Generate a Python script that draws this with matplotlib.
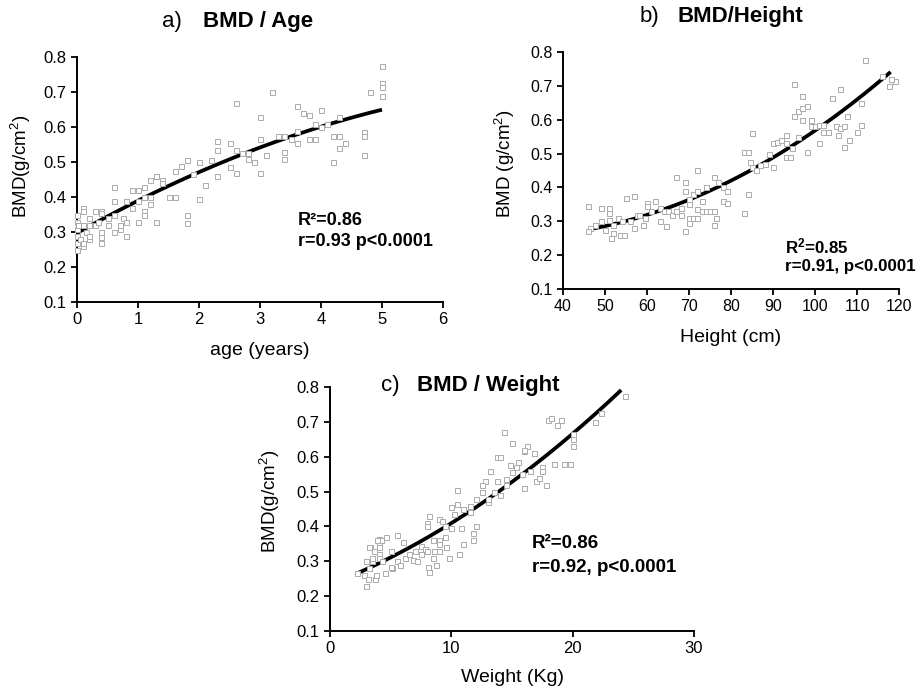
import numpy as np
import matplotlib
matplotlib.use("Agg")
import matplotlib.pyplot as plt

plt.rcParams["font.family"] = ["Liberation Sans", "DejaVu Sans"]
plt.rcParams["mathtext.fontset"] = "custom"
plt.rcParams["mathtext.rm"] = "Liberation Sans"
plt.rcParams["mathtext.bf"] = "Liberation Sans:bold"
plt.rcParams["mathtext.default"] = "regular"

# ---- a) BMD vs age -------------------------------------------------------
age_years = [0.0, 0.0, 0.0, 0.0, 0.0, 0.0, 0.02, 0.05, 0.1, 0.1, 0.1, 0.1, 0.1, 0.15,
             0.2, 0.2, 0.2, 0.2, 0.3, 0.3, 0.35, 0.4, 0.4, 0.4, 0.4, 0.4, 0.5, 0.5,
             0.6, 0.6, 0.6, 0.6, 0.7, 0.7, 0.75, 0.8, 0.8, 0.8, 0.9, 0.9, 1.0, 1.0, 1.0,
             1.1, 1.1, 1.1, 1.1, 1.2, 1.2, 1.2, 1.3, 1.3, 1.4, 1.4, 1.5, 1.6, 1.6, 1.7,
             1.8, 1.8, 1.8, 1.9, 2.0, 2.0, 2.1, 2.2, 2.3, 2.3, 2.3, 2.5, 2.5, 2.6, 2.6,
             2.6, 2.7, 2.8, 2.8, 2.9, 3.0, 3.0, 3.0, 3.1, 3.2, 3.3, 3.4, 3.4, 3.4, 3.5,
             3.6, 3.6, 3.6, 3.7, 3.8, 3.8, 3.9, 3.9, 4.0, 4.0, 4.1, 4.2, 4.2, 4.3, 4.3,
             4.3, 4.4, 4.7, 4.7, 4.7, 4.8, 5.0, 5.0, 5.0, 5.0]
bmd_age = [0.35, 0.33, 0.31, 0.29, 0.27, 0.25, 0.32, 0.28, 0.37, 0.36, 0.32, 0.26, 0.27, 0.30,
           0.34, 0.32, 0.28, 0.29, 0.36, 0.32, 0.33, 0.36, 0.355, 0.30, 0.27, 0.285, 0.34, 0.32,
           0.43, 0.39, 0.35, 0.30, 0.31, 0.32, 0.34, 0.39, 0.33, 0.29, 0.42, 0.37, 0.42, 0.39, 0.33,
           0.43, 0.36, 0.35, 0.40, 0.45, 0.38, 0.40, 0.46, 0.33, 0.45, 0.44, 0.40, 0.475, 0.40, 0.49,
           0.505, 0.35, 0.325, 0.465, 0.50, 0.395, 0.435, 0.505, 0.56, 0.535, 0.46, 0.555, 0.485, 0.67, 0.535,
           0.47, 0.525, 0.51, 0.525, 0.50, 0.63, 0.565, 0.47, 0.52, 0.70, 0.575, 0.575, 0.53, 0.51, 0.565,
           0.66, 0.59, 0.555, 0.64, 0.635, 0.565, 0.61, 0.565, 0.65, 0.60, 0.61, 0.575, 0.50, 0.63, 0.575,
           0.54, 0.555, 0.585, 0.575, 0.52, 0.70, 0.775, 0.725, 0.715, 0.69]
fit_age = [-0.0055, 0.098, 0.297]          # quadratic regression coefficients
fit_age_span = (0.0, 5.0)

# ---- b) BMD vs height ----------------------------------------------------
height_cm = [46, 46.5, 46, 47.5, 49, 49, 50, 51, 51, 51, 51.5, 52, 52, 53, 53.5, 54, 54.5, 55,
             56, 57, 57, 57.5, 58, 59, 59.5, 60, 60, 61, 62, 63, 63, 64, 64.5, 65, 66, 67, 67,
             68, 68, 69, 69, 69, 70, 70, 70, 70, 71, 71, 72, 72, 72, 72, 73, 73, 74, 74, 75,
             76, 76, 76, 76.5, 77, 78, 78, 79, 79, 83, 83, 84, 84, 84.5, 85, 85, 86, 87, 88,
             89, 90, 90, 91, 92, 93, 93, 93, 94, 94.5, 95, 95, 96, 96, 97, 97, 97, 98, 98,
             99, 99, 100, 101, 101, 102, 102, 103, 104, 105, 105.5, 106, 106, 107, 107, 107.5,
             108, 110, 111, 111, 112, 116, 117.5, 119, 118]
bmd_height = [0.345, 0.28, 0.27, 0.29, 0.34, 0.30, 0.275, 0.34, 0.325, 0.305, 0.25, 0.265, 0.29,
              0.31, 0.26, 0.30, 0.26, 0.37, 0.30, 0.375, 0.28, 0.32, 0.32, 0.29, 0.31, 0.355, 0.345,
              0.33, 0.36, 0.30, 0.34, 0.33, 0.285, 0.33, 0.32, 0.43, 0.33, 0.32, 0.34, 0.415, 0.39,
              0.27, 0.365, 0.35, 0.31, 0.295, 0.38, 0.31, 0.45, 0.39, 0.335, 0.31, 0.36, 0.33, 0.40,
              0.33, 0.33, 0.43, 0.33, 0.29, 0.31, 0.415, 0.40, 0.36, 0.39, 0.355, 0.505, 0.325, 0.505,
              0.38, 0.475, 0.56, 0.46, 0.45, 0.465, 0.47, 0.50, 0.46, 0.53, 0.535, 0.54, 0.555, 0.53,
              0.49, 0.49, 0.515, 0.705, 0.61, 0.55, 0.625, 0.67, 0.60, 0.635, 0.64, 0.505, 0.60, 0.58,
              0.58, 0.585, 0.53, 0.585, 0.565, 0.565, 0.665, 0.58, 0.555, 0.69, 0.575, 0.58, 0.52,
              0.61, 0.54, 0.565, 0.585, 0.65, 0.775, 0.73, 0.70, 0.715, 0.72]
fit_height = [5.844e-5, -0.003123, 0.29586]
fit_height_span = (46.5, 118.0)

# ---- c) BMD vs weight ----------------------------------------------------
weight_kg = [2.2, 2.8, 3.0, 3.0, 3.1, 3.2, 3.3, 3.5, 3.5, 3.6, 3.7, 3.8, 4.0, 4.0, 4.0, 4.0, 4.0,
             4.2, 4.5, 4.6, 5.0, 5.1, 5.5, 5.5, 5.8, 6.0, 6.2, 6.5, 6.8, 7.0, 7.2, 7.5, 7.5, 7.8,
             8.0, 8.0, 8.0, 8.1, 8.2, 8.2, 8.5, 8.5, 8.6, 8.7, 9.0, 9.0, 9.0, 9.0, 9.2, 9.5, 9.5,
             9.6, 9.8, 10.0, 10.0, 10.2, 10.5, 10.5, 10.6, 10.8, 11.0, 11.0, 11.5, 11.5, 11.8, 11.8,
             12.0, 12.0, 12.5, 12.8, 13.0, 13.2, 13.5, 13.8, 13.8, 14.0, 14.0, 14.3, 14.5, 14.5,
             15.0, 15.0, 15.3, 15.5, 15.8, 16.0, 16.0, 16.2, 16.5, 16.8, 17.0, 17.2, 17.5, 17.8,
             18.0, 18.2, 18.5, 18.7, 19.0, 19.3, 19.8, 20.0, 20.0, 20.0, 21.8, 22.3, 24.3, 17.5,
             16.0, 14.8, 12.5, 13.0, 4.3, 3.2, 3.9, 5.0]
bmd_weight = [0.265, 0.26, 0.30, 0.23, 0.25, 0.28, 0.34, 0.30, 0.31, 0.33, 0.25, 0.26, 0.365, 0.35,
              0.34, 0.32, 0.31, 0.36, 0.265, 0.37, 0.33, 0.28, 0.375, 0.30, 0.29, 0.355, 0.31, 0.32,
              0.305, 0.33, 0.30, 0.345, 0.32, 0.335, 0.41, 0.40, 0.33, 0.285, 0.43, 0.27, 0.36, 0.31,
              0.33, 0.29, 0.42, 0.36, 0.35, 0.33, 0.415, 0.40, 0.37, 0.34, 0.31, 0.455, 0.395, 0.435,
              0.505, 0.465, 0.32, 0.395, 0.45, 0.35, 0.46, 0.44, 0.38, 0.36, 0.40, 0.48, 0.50, 0.53,
              0.47, 0.56, 0.50, 0.60, 0.53, 0.60, 0.49, 0.67, 0.52, 0.535, 0.555, 0.64, 0.57, 0.585,
              0.55, 0.51, 0.615, 0.63, 0.56, 0.61, 0.53, 0.54, 0.57, 0.52, 0.705, 0.71, 0.58, 0.69,
              0.705, 0.58, 0.58, 0.65, 0.63, 0.665, 0.70, 0.725, 0.775, 0.56, 0.62, 0.575, 0.52, 0.48,
              0.30, 0.34, 0.36, 0.285]
fit_weight = [0.0004, 0.01367, 0.2327]
fit_weight_span = (2.2, 24.0)

y_ticks = [0.1, 0.2, 0.3, 0.4, 0.5, 0.6, 0.7, 0.8]

W, H = 921, 695
fig = plt.figure(figsize=(W / 100, H / 100), dpi=100)


def px_axes(left, top, right, bottom):
    return fig.add_axes([left / W, 1 - bottom / H, (right - left) / W, (bottom - top) / H])


def panel(ax, xs, ys, coeffs, span, xlim, xticks, xlabel, ylabel,
          xlab_y, ylab_x, ylab_y, tick_size=12):
    xf = np.linspace(span[0], span[1], 200)
    ax.plot(xf, np.polyval(coeffs, xf), color="black", lw=2.7, zorder=2,
            solid_capstyle="butt")
    ax.plot(xs, ys, ls="none", marker="s", ms=3.6, mfc="white", mec="#ababab",
            mew=0.7, zorder=3, clip_on=False)
    ax.set_xlim(*xlim)
    ax.set_ylim(0.1, 0.8)
    ax.set_xticks(xticks)
    ax.set_yticks(y_ticks)
    ax.set_yticklabels([f"{t:.1f}" for t in y_ticks])
    for s in ("top", "right"):
        ax.spines[s].set_visible(False)
    for s in ("left", "bottom"):
        ax.spines[s].set_linewidth(1.4)
    ax.tick_params(direction="out", length=4.5, width=1.3, labelsize=tick_size, pad=3)
    ax.set_xlabel(xlabel, fontsize=14)
    ax.set_ylabel(ylabel, fontsize=13.5)
    ax.xaxis.set_label_coords(0.5, xlab_y)
    ax.yaxis.set_label_coords(ylab_x, ylab_y)


ax_a = px_axes(77, 57, 443, 302)
panel(ax_a, age_years, bmd_age, fit_age, fit_age_span, (0, 6), range(0, 7),
      "age (years)", "BMD(g/cm$^2$)", -0.165, -0.12, 0.555)

ax_b = px_axes(563, 52, 899, 289)
panel(ax_b, height_cm, bmd_height, fit_height, fit_height_span, (40, 120),
      range(40, 121, 10), "Height (cm)", "BMD (g/cm$^2$)", -0.17, -0.137, 0.53,
      tick_size=11.5)

ax_c = px_axes(330, 387, 694, 631)
panel(ax_c, weight_kg, bmd_weight, fit_weight, fit_weight_span, (0, 30),
      [0, 10, 20, 30], "Weight (Kg)", "BMD(g/cm$^2$)", -0.155, -0.132, 0.533)


def ftext(x, y, s, **kw):
    fig.text(x / W, 1 - y / H, s, **kw)


# panel titles
ftext(162, 27, "a)", fontsize=16, va="baseline")
ftext(203, 27, "BMD / Age", fontsize=16, fontweight="bold", va="baseline")
ftext(640, 22, "b)", fontsize=16, va="baseline")
ftext(677, 22, "BMD/Height", fontsize=16, fontweight="bold", va="baseline")
ftext(381, 391, "c)", fontsize=16, va="baseline")
ftext(417, 391, "BMD / Weight", fontsize=16, fontweight="bold", va="baseline")

# regression statistics
ftext(298, 221, "R\u00b2=0.86", fontsize=13, fontweight="bold", va="center")
ftext(298, 242, "r=0.93 p<0.0001", fontsize=13, fontweight="bold", va="center")
ftext(785, 246, r"R$^\mathbf{2}$=0.85", fontsize=12.2, fontweight="bold", va="center")
ftext(785, 266, "r=0.91, p<0.0001", fontsize=12.2, fontweight="bold", va="center")
ftext(532, 544, "R\u00b2=0.86", fontsize=13.5, fontweight="bold", va="center")
ftext(532, 567, "r=0.92, p<0.0001", fontsize=13.5, fontweight="bold", va="center")

fig.savefig("out.png", dpi=100, facecolor="white")
